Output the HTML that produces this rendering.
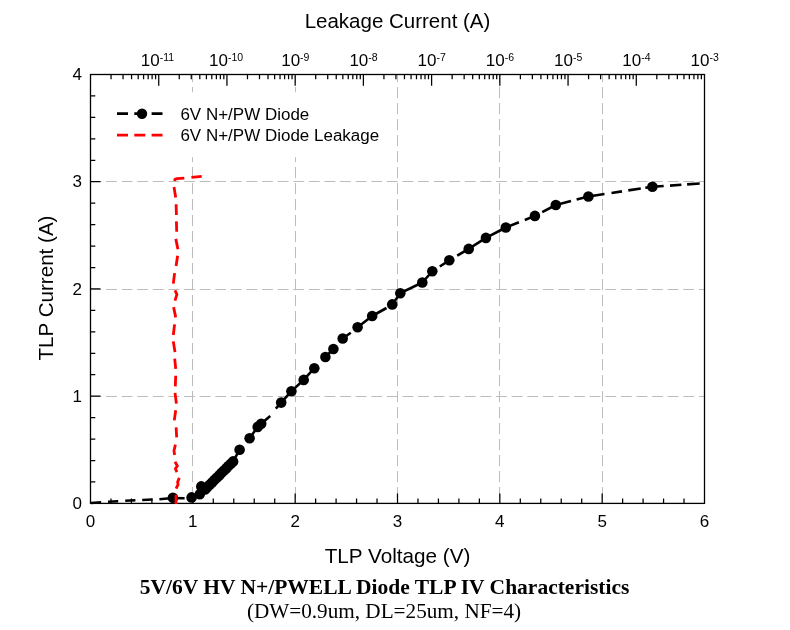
<!DOCTYPE html>
<html><head><meta charset="utf-8"><title>TLP IV</title>
<style>
html,body{margin:0;padding:0;background:#fff;}
body{width:790px;height:630px;overflow:hidden;position:relative;}
svg{position:absolute;left:0;top:0;display:block;}
text{font-family:"Liberation Sans",sans-serif;fill:#000;}
.ser{font-family:"Liberation Serif",serif;}
</style></head><body>
<svg width="790" height="630" viewBox="0 0 790 630">
<rect x="0" y="0" width="790" height="630" fill="#fff"/>

<g stroke="#bcbcbc" stroke-width="1" fill="none">
<path d="M90.50 181.5H704.50" stroke-dasharray="10.8 4.8"/>
<path d="M90.50 289.5H704.50" stroke-dasharray="10.8 4.8"/>
<path d="M90.50 396.5H704.50" stroke-dasharray="10.8 4.8"/>
<path d="M192.5 74.50V503.40" stroke-dasharray="11.2 4.8" stroke-dashoffset="3.5"/>
<path d="M295.5 74.50V503.40" stroke-dasharray="11.2 4.8" stroke-dashoffset="3.5"/>
<path d="M397.5 74.50V503.40" stroke-dasharray="11.2 4.8" stroke-dashoffset="3.5"/>
<path d="M499.5 74.50V503.40" stroke-dasharray="11.2 4.8" stroke-dashoffset="3.5"/>
<path d="M602.5 74.50V503.40" stroke-dasharray="11.2 4.8" stroke-dashoffset="3.5"/>
</g>
<rect x="104" y="92.2" width="284" height="65" fill="#fff"/>
<g stroke="#000" stroke-width="1.25" fill="none">
<path d="M110.97 503.40v-4.8 M131.43 503.40v-4.8 M151.90 503.40v-4.8 M172.37 503.40v-4.8 M192.83 503.40v-10 M213.30 503.40v-4.8 M233.77 503.40v-4.8 M254.23 503.40v-4.8 M274.70 503.40v-4.8 M295.17 503.40v-10 M315.63 503.40v-4.8 M336.10 503.40v-4.8 M356.57 503.40v-4.8 M377.03 503.40v-4.8 M397.50 503.40v-10 M417.97 503.40v-4.8 M438.43 503.40v-4.8 M458.90 503.40v-4.8 M479.37 503.40v-4.8 M499.83 503.40v-10 M520.30 503.40v-4.8 M540.77 503.40v-4.8 M561.23 503.40v-4.8 M581.70 503.40v-4.8 M602.17 503.40v-10 M622.63 503.40v-4.8 M643.10 503.40v-4.8 M663.57 503.40v-4.8 M684.03 503.40v-4.8 M90.50 481.95h4.8 M90.50 460.51h4.8 M90.50 439.06h4.8 M90.50 417.62h4.8 M90.50 396.17h10 M90.50 374.73h4.8 M90.50 353.28h4.8 M90.50 331.84h4.8 M90.50 310.39h4.8 M90.50 288.95h10 M90.50 267.50h4.8 M90.50 246.06h4.8 M90.50 224.62h4.8 M90.50 203.17h4.8 M90.50 181.73h10 M90.50 160.28h4.8 M90.50 138.83h4.8 M90.50 117.39h4.8 M90.50 95.94h4.8 M111.04 74.50v4.8 M123.05 74.50v4.8 M131.57 74.50v4.8 M138.19 74.50v4.8 M143.59 74.50v4.8 M148.15 74.50v4.8 M152.11 74.50v4.8 M155.60 74.50v4.8 M158.72 74.50v11.3 M179.26 74.50v4.8 M191.27 74.50v4.8 M199.80 74.50v4.8 M206.41 74.50v4.8 M211.81 74.50v4.8 M216.38 74.50v4.8 M220.33 74.50v4.8 M223.82 74.50v4.8 M226.94 74.50v11.3 M247.48 74.50v4.8 M259.49 74.50v4.8 M268.02 74.50v4.8 M274.63 74.50v4.8 M280.03 74.50v4.8 M284.60 74.50v4.8 M288.56 74.50v4.8 M292.04 74.50v4.8 M295.17 74.50v11.3 M315.70 74.50v4.8 M327.72 74.50v4.8 M336.24 74.50v4.8 M342.85 74.50v4.8 M348.25 74.50v4.8 M352.82 74.50v4.8 M356.78 74.50v4.8 M360.27 74.50v4.8 M363.39 74.50v11.3 M383.93 74.50v4.8 M395.94 74.50v4.8 M404.46 74.50v4.8 M411.07 74.50v4.8 M416.48 74.50v4.8 M421.04 74.50v4.8 M425.00 74.50v4.8 M428.49 74.50v4.8 M431.61 74.50v11.3 M452.15 74.50v4.8 M464.16 74.50v4.8 M472.68 74.50v4.8 M479.30 74.50v4.8 M484.70 74.50v4.8 M489.27 74.50v4.8 M493.22 74.50v4.8 M496.71 74.50v4.8 M499.83 74.50v11.3 M520.37 74.50v4.8 M532.38 74.50v4.8 M540.91 74.50v4.8 M547.52 74.50v4.8 M552.92 74.50v4.8 M557.49 74.50v4.8 M561.44 74.50v4.8 M564.93 74.50v4.8 M568.06 74.50v11.3 M588.59 74.50v4.8 M600.61 74.50v4.8 M609.13 74.50v4.8 M615.74 74.50v4.8 M621.14 74.50v4.8 M625.71 74.50v4.8 M629.67 74.50v4.8 M633.16 74.50v4.8 M636.28 74.50v11.3 M656.81 74.50v4.8 M668.83 74.50v4.8 M677.35 74.50v4.8 M683.96 74.50v4.8 M689.36 74.50v4.8 M693.93 74.50v4.8 M697.89 74.50v4.8 M701.38 74.50v4.8"/>
</g>
<rect x="90.5" y="74.5" width="614.00" height="428.90" fill="none" stroke="#000" stroke-width="1.3"/>
<path d="M91.0 503.0 L101.2 502.3 M108.0 501.8 L118.2 501.2 M125.2 500.8 L135.4 500.3 M142.2 500.0 L152.6 499.5 M159.4 499.2 L172.9 498.0 L184.6 498.2 M191.6 497.6 L199.8 494.2 L205.0 489.5 L233.1 461.4 L239.6 449.8 M249.6 438.3 L257.7 426.9 L261.2 423.7 L270.2 415.9 M275.8 408.7 L281.2 402.6 L291.4 391.2 L303.7 379.9 L314.3 368.2 L316.5 366.0 M325.4 357.0 L333.4 349.0 M342.7 338.5 L350.8 332.7 M357.6 327.3 L372.2 316.0 L386.5 308.0 M392.2 304.4 L400.3 293.2 L422.3 282.5 L432.3 271.3 M439.8 266.5 L449.3 260.3 M457.2 255.7 L468.7 248.9 L485.9 237.9 L505.8 227.5 L518.9 222.3 M524.8 220.0 L534.9 215.9 M542.2 212.1 L555.8 205.0 L571.0 201.0 M576.6 199.6 L588.4 196.5 L604.5 194.0 M611.5 193.0 L622.0 191.4 M628.3 190.4 L640.8 188.5 M645.3 187.8 L652.4 186.8 L663.7 186.0 M670.0 185.6 L681.4 184.8 M687.1 184.4 L699.7 183.5" fill="none" stroke="#000" stroke-width="2.6" stroke-linejoin="round"/>
<g fill="#000">
<circle cx="172.9" cy="497.8" r="5.3"/>
<circle cx="191.6" cy="497.4" r="5.3"/>
<circle cx="199.8" cy="494.2" r="5.3"/>
<circle cx="201.3" cy="486.4" r="5.3"/>
<circle cx="205.0" cy="489.5" r="5.3"/>
<circle cx="207.3" cy="487.2" r="5.3"/>
<circle cx="209.7" cy="484.8" r="5.3"/>
<circle cx="212.0" cy="482.5" r="5.3"/>
<circle cx="214.4" cy="480.1" r="5.3"/>
<circle cx="216.7" cy="477.8" r="5.3"/>
<circle cx="219.1" cy="475.4" r="5.3"/>
<circle cx="221.4" cy="473.1" r="5.3"/>
<circle cx="223.7" cy="470.8" r="5.3"/>
<circle cx="226.1" cy="468.4" r="5.3"/>
<circle cx="228.4" cy="466.1" r="5.3"/>
<circle cx="230.8" cy="463.7" r="5.3"/>
<circle cx="233.1" cy="461.4" r="5.3"/>
<circle cx="239.6" cy="449.8" r="5.3"/>
<circle cx="249.6" cy="438.3" r="5.3"/>
<circle cx="257.7" cy="426.9" r="5.3"/>
<circle cx="261.2" cy="423.7" r="5.3"/>
<circle cx="281.2" cy="402.6" r="5.3"/>
<circle cx="291.4" cy="391.2" r="5.3"/>
<circle cx="303.7" cy="379.9" r="5.3"/>
<circle cx="314.3" cy="368.2" r="5.3"/>
<circle cx="325.4" cy="357.0" r="5.3"/>
<circle cx="333.4" cy="349.0" r="5.3"/>
<circle cx="342.7" cy="338.5" r="5.3"/>
<circle cx="357.6" cy="327.3" r="5.3"/>
<circle cx="372.2" cy="316.0" r="5.3"/>
<circle cx="392.2" cy="304.4" r="5.3"/>
<circle cx="400.3" cy="293.2" r="5.3"/>
<circle cx="422.3" cy="282.5" r="5.3"/>
<circle cx="432.3" cy="271.3" r="5.3"/>
<circle cx="449.3" cy="260.3" r="5.3"/>
<circle cx="468.7" cy="248.9" r="5.3"/>
<circle cx="485.9" cy="237.9" r="5.3"/>
<circle cx="505.8" cy="227.5" r="5.3"/>
<circle cx="534.9" cy="215.9" r="5.3"/>
<circle cx="555.8" cy="205.0" r="5.3"/>
<circle cx="588.4" cy="196.5" r="5.3"/>
<circle cx="652.4" cy="186.8" r="5.3"/>
</g>
<path d="M201.7 176.3 L191.4 177.4 M184.3 178.1 L177.0 178.6 L175.0 179.4 L174.6 181.0 M174.0 187.1 L175.7 197.4 M176.1 204.3 L176.4 215.0 M176.4 221.4 L176.7 231.7 M175.8 238.9 L177.9 249.3 M177.6 255.7 L176.1 266.0 M174.6 273.1 L173.3 283.6 M175.0 290.3 L176.9 294.3 L175.0 300.7 M173.6 307.1 L175.7 317.4 M174.6 324.3 L173.3 335.0 M173.3 341.4 L175.0 352.1 M174.7 358.6 L175.7 368.9 M175.7 375.7 L175.3 386.4 M175.0 392.9 L176.4 403.6 M175.7 410.3 L174.3 420.4 M176.1 427.4 L176.7 437.4 M175.4 444.6 L174.0 450.7 L174.6 455.0 M175.0 461.7 L177.4 466.0 L175.4 468.6 L176.9 472.1 M179.3 477.9 L177.6 482.1 L178.1 484.3 L176.1 488.6 M176.0 494.8 L176.0 504.0" fill="none" stroke="#ff0000" stroke-width="2.8" stroke-linejoin="round"/>
<path d="M117 113.7H162.5" stroke="#000" stroke-width="2.8" stroke-dasharray="11 6.3" fill="none"/>
<circle cx="142" cy="113.7" r="5.2" fill="#000"/>
<path d="M117 135.2H162.5" stroke="#ff0000" stroke-width="2.8" stroke-dasharray="11 6.3" fill="none"/>
<g style="opacity:0.999">
<text transform="translate(180.4 119.5) scale(1.037 1)" font-size="16.4">6V N+/PW Diode</text>
<text transform="translate(180.4 140.7) scale(1.037 1)" font-size="16.4">6V N+/PW Diode Leakage</text>
<text x="90.5" y="527" font-size="17" text-anchor="middle">0</text>
<text x="192.8" y="527" font-size="17" text-anchor="middle">1</text>
<text x="295.2" y="527" font-size="17" text-anchor="middle">2</text>
<text x="397.5" y="527" font-size="17" text-anchor="middle">3</text>
<text x="499.8" y="527" font-size="17" text-anchor="middle">4</text>
<text x="602.2" y="527" font-size="17" text-anchor="middle">5</text>
<text x="704.5" y="527" font-size="17" text-anchor="middle">6</text>
<text x="82" y="509.1" font-size="17" text-anchor="end">0</text>
<text x="82" y="401.9" font-size="17" text-anchor="end">1</text>
<text x="82" y="294.6" font-size="17" text-anchor="end">2</text>
<text x="82" y="187.4" font-size="17" text-anchor="end">3</text>
<text x="82" y="80.2" font-size="17" text-anchor="end">4</text>
<text x="140.8" y="66" font-size="17">10<tspan font-size="10.5" dy="-5.2">-11</tspan></text>
<text x="209.0" y="66" font-size="17">10<tspan font-size="10.5" dy="-5.2">-10</tspan></text>
<text x="281.2" y="66" font-size="17">10<tspan font-size="10.5" dy="-5.2">-9</tspan></text>
<text x="349.4" y="66" font-size="17">10<tspan font-size="10.5" dy="-5.2">-8</tspan></text>
<text x="417.6" y="66" font-size="17">10<tspan font-size="10.5" dy="-5.2">-7</tspan></text>
<text x="485.8" y="66" font-size="17">10<tspan font-size="10.5" dy="-5.2">-6</tspan></text>
<text x="554.1" y="66" font-size="17">10<tspan font-size="10.5" dy="-5.2">-5</tspan></text>
<text x="622.3" y="66" font-size="17">10<tspan font-size="10.5" dy="-5.2">-4</tspan></text>
<text x="690.5" y="66" font-size="17">10<tspan font-size="10.5" dy="-5.2">-3</tspan></text>
<text x="397.5" y="28" font-size="20.5" text-anchor="middle">Leakage Current (A)</text>
<text x="397.5" y="563" font-size="20.7" text-anchor="middle">TLP Voltage (V)</text>
<text transform="translate(53 288) rotate(-90)" font-size="20.6" text-anchor="middle">TLP Current (A)</text>
<text class="ser" x="384.5" y="594" font-size="21.5" font-weight="bold" text-anchor="middle">5V/6V HV N+/PWELL Diode TLP IV Characteristics</text>
<text class="ser" x="384" y="618" font-size="21.2" text-anchor="middle">(DW=0.9um, DL=25um, NF=4)</text>
</g>
</svg></body></html>
